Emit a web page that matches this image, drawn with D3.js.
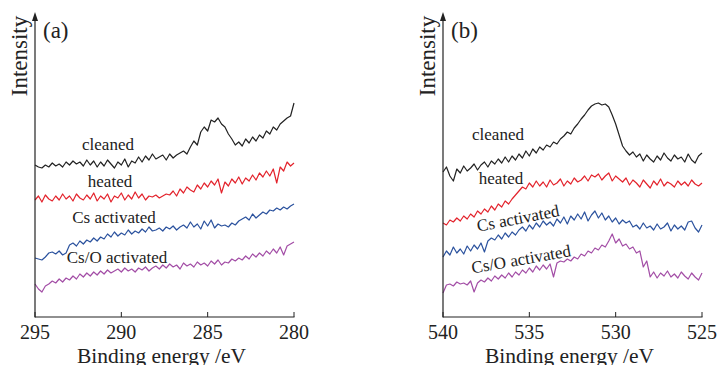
<!DOCTYPE html>
<html>
<head>
<meta charset="utf-8">
<script src="https://cdn.jsdelivr.net/npm/d3@7/dist/d3.min.js"></script>
</head>
<body style="margin:0">
<svg width="719" height="365" font-family="Liberation Serif"></svg>
<script>
// binding energy grid, 0.2 eV step
var energyA = d3.range(76).map(function(i) { return +(295 - i * 0.2).toFixed(1); });
var energyB = d3.range(76).map(function(i) { return +(540 - i * 0.2).toFixed(1); });

var ticksA = [295, 290, 285, 280];
var ticksB = [540, 535, 530, 525];

var seriesNames = ["cleaned", "heated", "Cs activated", "Cs/O activated"];

// intensity (a.u., offset stacked) - C 1s region
var cleanedA = [152,150,149,152,150,154,151,153,150,155,
  152,156,153,155,151,157,152,156,150,155,
  151,157,153,149,155,152,158,150,156,154,
  160,155,161,157,163,158,160,162,157,163,
  159,162,164,166,163,170,176,172,185,190,
  186,197,195,199,193,190,183,178,172,175,
  171,178,174,180,176,182,179,186,183,190,
  187,193,196,199,201,214];
var heatedA = [117,121,115,122,118,116,121,117,123,118,
  121,116,123,119,117,122,118,124,116,121,
  118,123,115,121,119,124,117,122,118,125,
  119,123,117,121,120,122,119,121,123,122,
  126,121,128,124,130,127,125,132,128,134,
  130,136,132,138,124,135,131,138,134,140,
  133,139,136,142,137,144,140,146,141,148,
  134,150,146,155,151,154];
var csA = [59,58,57,60,64,65,63,66,62,64,
  72,74,71,76,73,77,75,79,76,80,
  78,83,80,85,81,84,82,87,83,86,
  84,88,85,90,86,87,89,86,90,88,
  91,87,90,92,89,95,90,93,88,96,
  91,97,89,93,91,92,90,94,92,96,
  98,100,97,103,99,102,105,103,107,106,
  109,107,110,108,111,113];
var csoA = [33,28,25,31,33,36,34,38,35,39,
  37,41,38,43,40,44,41,45,42,46,
  43,47,44,46,48,45,49,46,48,45,
  49,47,50,46,49,51,48,52,49,53,
  50,52,48,54,51,53,50,55,52,54,
  51,56,53,57,52,55,54,58,56,59,
  57,61,58,63,60,64,61,66,63,68,
  64,70,62,71,73,75];

// O 1s region
var cleanedB = [145,150,141,136,148,144,151,146,149,153,
  147,152,155,150,156,153,158,154,160,155,
  161,157,163,159,166,161,168,164,170,167,
  172,170,175,173,178,181,185,183,189,193,
  198,202,207,211,213,214,212,213,210,202,
  193,182,171,166,162,165,160,163,156,162,
  158,155,161,157,164,159,156,162,158,160,
  155,163,157,154,161,164];
var heatedB = [94,92,97,95,99,96,101,98,103,100,
  106,103,108,105,111,107,113,110,116,113,
  118,122,126,130,128,134,130,136,131,135,
  130,137,132,134,138,131,136,133,139,135,
  137,141,136,142,140,143,137,141,144,136,
  141,138,135,139,132,137,134,130,137,133,
  129,136,132,138,131,135,133,130,136,132,
  135,131,137,133,131,134];
var csB = [60,66,62,70,64,68,63,71,66,72,
  68,74,65,76,79,77,82,78,84,80,
  85,82,87,90,86,92,88,94,90,96,
  92,95,91,98,94,100,93,101,97,103,
  98,105,96,102,106,99,104,97,101,95,
  99,93,97,94,96,90,92,88,94,89,
  91,87,93,88,90,94,86,92,88,91,
  87,95,96,89,85,92];
var csoB = [24,32,33,31,35,33,34,32,36,25,
  34,37,35,39,36,41,38,42,39,44,
  40,45,42,47,44,49,45,51,47,52,
  48,53,40,54,56,55,58,56,60,58,
  63,61,66,64,69,67,72,70,76,83,
  74,78,71,73,68,70,64,66,50,56,
  40,45,39,44,41,46,40,43,39,45,
  41,38,44,40,37,44];

var colors = ["#222222", "#e3232c", "#2b529e", "#a34ea6"];
var FONT = "'Liberation Serif'";

var svg = d3.select("svg");

var yBottom = 317, yTop = 13;
var y = d3.scaleLinear().domain([0, 304]).range([yBottom, yTop]);

function addText(size) {
  return svg.append("text")
    .attr("font-family", "Liberation Serif")
    .style("font-family", FONT)
    .style("font-size", size + "px")
    .style("fill", "#222");
}

function drawPanel(opt) {
  var x = d3.scaleLinear().domain(opt.domain).range([opt.x0, opt.x1]);

  var line = d3.line()
    .x(function(d) { return x(d[0]); })
    .y(function(d) { return y(d[1]); });

  opt.series.forEach(function(s, i) {
    svg.append("path")
      .datum(d3.zip(opt.energy, s))
      .attr("d", line)
      .attr("fill", "none")
      .attr("stroke", colors[i])
      .attr("stroke-width", 1.2)
      .attr("stroke-linejoin", "round");
  });

  // x axis line and inward ticks
  svg.append("path")
    .attr("d", "M" + opt.x0 + "," + yBottom + "H" + (opt.x1 + 0.5))
    .attr("stroke", "#222").attr("stroke-width", 1.2).attr("fill", "none");
  opt.ticks.forEach(function(t) {
    svg.append("line")
      .attr("x1", x(t)).attr("x2", x(t))
      .attr("y1", yBottom).attr("y2", yBottom - 5)
      .attr("stroke", "#222").attr("stroke-width", 1);
    addText(20)
      .attr("x", x(t)).attr("y", yBottom + 22)
      .attr("text-anchor", "middle")
      .text(d3.format("d")(t));
  });

  // y axis with arrow head
  svg.append("line")
    .attr("x1", opt.x0).attr("x2", opt.x0)
    .attr("y1", yBottom + 0.5).attr("y2", yTop + 6)
    .attr("stroke", "#222").attr("stroke-width", 1.2);
  svg.append("path")
    .attr("d", "M" + (opt.x0 - 3) + "," + (yTop + 8) + "L" + opt.x0 + "," + (yTop - 1) + "L" + (opt.x0 + 3) + "," + (yTop + 8) + "Z")
    .attr("fill", "#222");

  addText(23)
    .attr("transform", "translate(" + (opt.x0 - 8) + "," + 56 + ") rotate(-90)")
    .attr("text-anchor", "middle")
    .text("Intensity");

  addText(23)
    .attr("x", opt.x0 + 8).attr("y", 38)
    .text(opt.tag);

  addText(21.5)
    .attr("x", (opt.x0 + opt.x1) / 2 - 3).attr("y", 363)
    .attr("text-anchor", "middle")
    .text("Binding energy /eV");

  opt.labels.forEach(function(l, i) {
    addText(17)
      .attr("transform", "translate(" + l[0] + "," + l[1] + ") rotate(" + l[2] + ")")
      .attr("text-anchor", "middle")
      .attr("dy", "0.35em")
      .text(seriesNames[i]);
  });
}

drawPanel({
  domain: [295, 280], x0: 35, x1: 294, ticks: ticksA, tag: "(a)",
  energy: energyA, series: [cleanedA, heatedA, csA, csoA],
  labels: [[108, 144, 0], [110, 181, 0], [114, 217, 0], [117, 257, 0]]
});

drawPanel({
  domain: [540, 525], x0: 443, x1: 702, ticks: ticksB, tag: "(b)",
  energy: energyB, series: [cleanedB, heatedB, csB, csoB],
  labels: [[498, 134, 0], [501, 178, 0], [518, 218, -11], [521, 259, -10]]
});
</script>
</body>
</html>
